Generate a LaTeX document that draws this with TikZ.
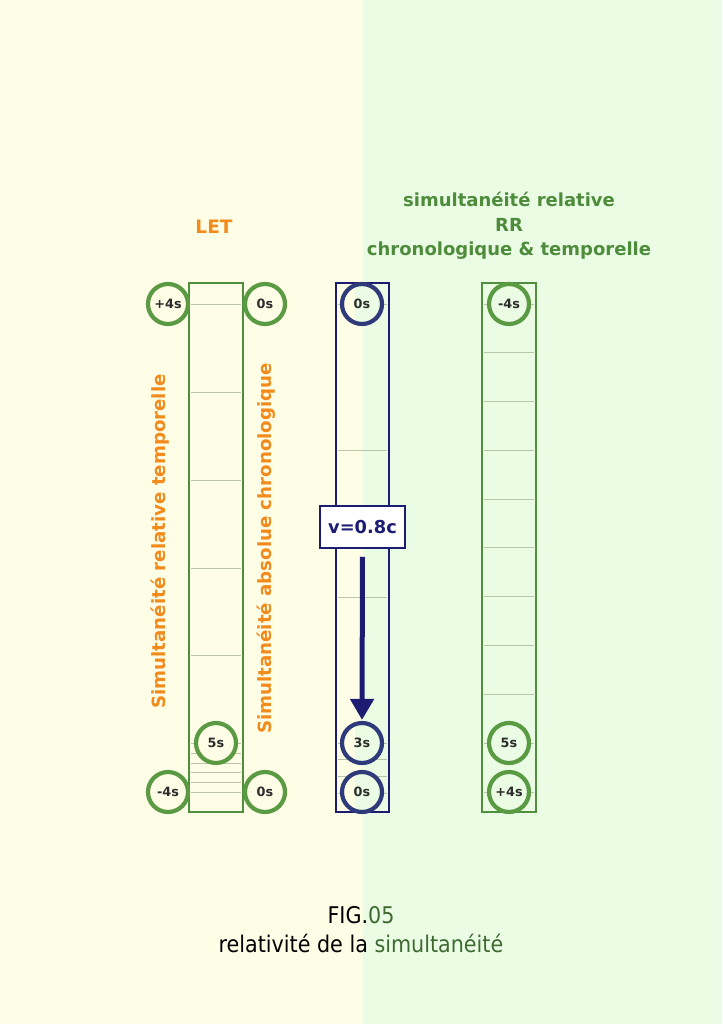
\documentclass[tikz,border=0pt]{standalone}
\usepackage{fontspec}
\setmainfont{DejaVu Sans}
\newfontfamily\condfont{DejaVu Sans Condensed}
\usetikzlibrary{arrows.meta}
\definecolor{bgL}{HTML}{FEFEE6}
\definecolor{bgR}{HTML}{EAFCE4}
\definecolor{grn}{HTML}{5A9A42}
\definecolor{grnbox}{HTML}{4F8F3E}
\definecolor{grntxt}{HTML}{4E8C3C}
\definecolor{org}{HTML}{F28A1C}
\definecolor{navy}{HTML}{1C1C72}
\definecolor{navyc}{HTML}{2F3A7A}
\definecolor{gridc}{HTML}{B8C6A8}
\definecolor{lbl}{HTML}{2C2C2C}
\definecolor{figgrn}{HTML}{3E6A32}
\tikzset{
  tc/.style={circle, minimum size=40, inner sep=0, line width=4.2, text=lbl, font=\bfseries\fontsize{12.8}{14}\selectfont},
  gcl/.style={tc, draw=grn, fill=bgL},
  gcr/.style={tc, draw=grn, fill=bgR},
  bc/.style={tc, draw=navyc, path picture={\fill[bgL] (-30,-30) rectangle (1,30); \fill[bgR] (1,-30) rectangle (30,30);}},
  gbox/.style={draw=grnbox, line width=2.3, minimum width=54, minimum height=529, inner sep=0},
  bbox/.style={draw=navy, line width=2.3, minimum width=53, minimum height=529, inner sep=0},
  gridl/.style={draw=gridc, line width=0.9},
  vtxt/.style={rotate=90, text=org, font=\bfseries\fontsize{18.2}{20}\selectfont},
  head/.style={text=grntxt, font=\bfseries\fontsize{18}{24.5}\selectfont, align=center},
}
\begin{document}
\begin{tikzpicture}[x=1pt,y=-1pt]
\useasboundingbox (0,0) rectangle (722,1024);
\fill[bgL] (0,0) rectangle (363,1024);
\fill[bgR] (363,0) rectangle (722,1024);
% grid lines
\foreach \y in {304,392,480,568,655,743,753,763,772,782,792}
  \draw[gridl] (191,\y) -- (241,\y);
\foreach \y in {304,450.5,597,743,759.7,776.3,793}
  \draw[gridl] (338,\y) -- (387,\y);
\foreach \k in {0,...,9}
  \draw[gridl] (484,304+\k*48.78) -- (534,304+\k*48.78);
\draw[gridl] (484,792) -- (534,792);
% boxes
\node[gbox] (letbox) at (216,547.5) {};
\node[bbox] (rbox) at (362.5,547.5) {};
\node[gbox] (rrbox) at (509,547.5) {};
% headings
\node[text=org, font=\bfseries\fontsize{18.5}{20}\selectfont] (let) at (214,227) {LET};
\node[head] (rr) at (509,226) {simultanéité relative\\RR\\chronologique \& temporelle};
% vertical texts
\node[vtxt] (v1) at (160,541.5) {Simultanéité relative temporelle};
\node[vtxt] (v2) at (266,548.5) {Simultanéité absolue chronologique};
% circles LET
\node[gcl] (a1) at (168,304) {+4s};
\node[gcl] (a2) at (265,304) {0s};
\node[gcl] (a3) at (216,743) {5s};
\node[gcl] (a4) at (168,792) {-4s};
\node[gcl] (a5) at (265,792) {0s};
% blue
\node[bc] (b1) at (362,304) {0s};
\node[bc] (b2) at (362,743) {3s};
\node[bc] (b3) at (362,792) {0s};
% right
\node[gcr] (c1) at (509,304) {-4s};
\node[gcr] (c2) at (509,743) {5s};
\node[gcr] (c3) at (509,792) {+4s};
% velocity
\node[draw=navy, line width=1.5, fill=white, minimum width=85, minimum height=42, inner sep=0, text=navy, font=\bfseries\fontsize{17.8}{19}\selectfont] (vel) at (362.5,527) {v=0.8c};
\draw[navy, line width=5, -{Triangle[length=21,width=23]}, shorten <=8, shorten >=1] (vel.south) -- (b2.north);
% caption
\node[font=\condfont\fontsize{23}{29}\selectfont, align=center] (fig) at (361,929.5) {FIG.\textcolor{figgrn}{05}\\relativité de la \textcolor{figgrn}{simultanéité}};
\end{tikzpicture}
\end{document}
